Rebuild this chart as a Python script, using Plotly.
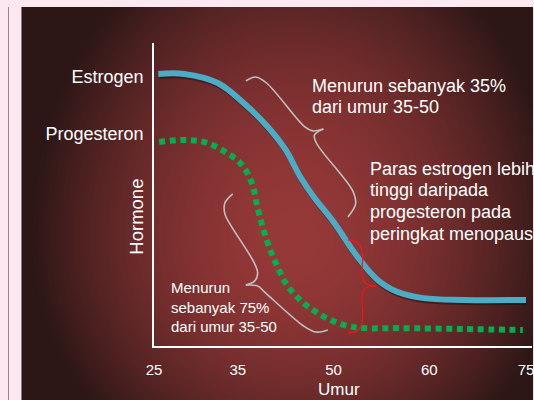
import base64
import struct
import zlib

import numpy as np
import plotly.graph_objects as go

# ---------------- data ----------------
AGE_TICKS = [25, 35, 50, 60, 75]
AGE_LABELS = ["25", "35", "50", "60", "75"]

estrogen_age = [25.5, 28.6, 32.6, 35.9, 39.7, 42.5, 44.8, 46.9, 50.0, 52.5, 54.6, 56.7, 59.4, 65.3, 75.0]
estrogen_level = [89.8, 89.8, 86.8, 80.2, 72.3, 64.7, 55.8, 49.2, 40.9, 29.4, 21.8, 17.8, 15.8, 15.2, 15.2]

progesteron_age = [25.6, 28.5, 31.0, 33.3, 35.5, 37.2, 38.0, 38.8, 39.8, 41.1, 42.8, 45.3, 47.5, 49.5,
                   51.5, 53.1, 57.0, 65.3, 74.5]
progesteron_level = [67.3, 68.0, 67.3, 64.4, 60.1, 53.8, 46.5, 39.9, 33.3, 26.7, 19.8, 14.2, 10.9, 8.6,
                     6.6, 5.9, 5.9, 5.6, 5.3]

SERIES_LABELS = ["Estrogen", "Progesteron"]

# curly braces (two halves each, meeting at the tip)
brace35_a_age = [36.25, 37.8, 39.5, 45.5, 46.7, 48.4]
brace35_a_lvl = [87.5, 88.8, 86.8, 72.3, 71.0, 71.6]
brace35_b_age = [48.4, 47.0, 47.3, 52.0, 52.3, 51.5]
brace35_b_lvl = [71.6, 69.6, 67.0, 51.2, 46.9, 42.6]

brace75_a_age = [34.4, 33.45, 33.45, 34.05, 37.5, 38.1, 37.65, 36.25]
brace75_a_lvl = [50.2, 47.2, 43.6, 40.3, 27.7, 24.1, 21.5, 20.1]
brace75_b_age = [36.25, 38.1, 39.2, 45.3, 47.2, 49.1]
brace75_b_lvl = [20.1, 19.8, 17.8, 6.6, 4.6, 5.3]

red_a_age = [51.5, 52.5, 53.0, 53.0, 53.4, 54.5]
red_a_lvl = [35.0, 34.0, 31.0, 22.8, 20.5, 19.8]
red_b_age = [54.5, 53.4, 53.0, 53.0, 52.5, 51.5]
red_b_lvl = [19.8, 19.1, 16.8, 7.9, 5.0, 4.3]

TEXT_35 = ["Menurun sebanyak 35%", "dari umur 35-50"]
TEXT_75 = ["Menurun", "sebanyak 75%", "dari umur 35-50"]
TEXT_PARAS = ["Paras estrogen lebih", "tinggi daripada", "progesteron pada", "peringkat menopaus"]

# ---------------- scale of the (non-uniform) age axis ----------------
TICK_POS = [0, 84, 180, 276, 373]


def pos(ages):
    return np.interp(np.asarray(ages, dtype=float), AGE_TICKS, TICK_POS)


W, H = 534, 400
FONT = "Liberation Sans, Arial, sans-serif"
PINK = "#FCE8F0"
DARK = "#3A1A1A"

# horizontal placement correction (measured from the page as it is photographed)
X0, XS = 7.5, 0.984


def sx(x):
    return (x - X0) / XS


# ---------------- radial-gradient background picture ----------------
PW, PH = 513, 393
xs = np.arange(PW) + 21.5
ys = np.arange(PH) + 7.5
X, Y = np.meshgrid(xs, ys)
dx = (X - 295) / 265
ry = np.where(Y < 240, 330, 260)
dy = (Y - 240) / ry
t = np.clip(np.sqrt(dx ** 2 + dy ** 2), 0, 1) ** 1.8
c0 = np.array([150, 56, 56], dtype=float)
c1 = np.array([44, 22, 22], dtype=float)
img = (c0 + (c1 - c0) * t[..., None]).round().astype(np.uint8)
raw = b"".join(b"\x00" + img[i].tobytes() for i in range(PH))


def chunk(tag, data):
    return struct.pack(">I", len(data)) + tag + data + struct.pack(">I", zlib.crc32(tag + data) & 0xFFFFFFFF)


png = (b"\x89PNG\r\n\x1a\n"
       + chunk(b"IHDR", struct.pack(">IIBBBBB", PW, PH, 8, 2, 0, 0, 0))
       + chunk(b"IDAT", zlib.compress(raw, 9))
       + chunk(b"IEND", b""))
bg_uri = "data:image/png;base64," + base64.b64encode(png).decode()

fig = go.Figure()

# shadow of the estrogen curve (subplot xy, shifted 2px right/down)
fig.add_trace(go.Scatter(x=pos(estrogen_age), y=estrogen_level, mode="lines",
                         line=dict(color="rgba(25,8,8,0.45)", width=6, shape="spline"),
                         xaxis="x", yaxis="y", hoverinfo="skip"))

# main subplot x2y2
fig.add_trace(go.Scatter(x=pos(progesteron_age), y=progesteron_level, mode="lines",
                         line=dict(color="#00B050", width=6, dash="6px,4.6px", shape="spline"),
                         xaxis="x2", yaxis="y2", name="Progesteron"))
fig.add_trace(go.Scatter(x=pos(estrogen_age), y=estrogen_level, mode="lines",
                         line=dict(color="#4BACC6", width=6, shape="spline"),
                         xaxis="x2", yaxis="y2", name="Estrogen"))

for a, l, col, w in [
    (brace35_a_age, brace35_a_lvl, "#C0C0C0", 1.6), (brace35_b_age, brace35_b_lvl, "#C0C0C0", 1.6),
    (brace75_a_age, brace75_a_lvl, "#C0C0C0", 1.6), (brace75_b_age, brace75_b_lvl, "#C0C0C0", 1.6),
    (red_a_age, red_a_lvl, "#F01818", 1.2), (red_b_age, red_b_lvl, "#F01818", 1.2),
]:
    fig.add_trace(go.Scatter(x=pos(a), y=l, mode="lines",
                             line=dict(color=col, width=w, shape="spline"),
                             xaxis="x2", yaxis="y2", hoverinfo="skip"))


def ann(text, x, y, size, xanchor="left", angle=0):
    return dict(text=text, x=sx(x) / W, y=1 - y / H, xref="paper", yref="paper",
                xanchor=xanchor, yanchor="middle", showarrow=False, textangle=angle,
                font=dict(size=size, color="white", family=FONT))


annotations = []
for i, s in enumerate(TEXT_35):
    annotations.append(ann(s, 310, [85.9, 106.9][i], 18))
for i, s in enumerate(TEXT_PARAS):
    annotations.append(ann(s, 368, [168.6, 190.3, 211.9, 233.6][i], 18))
for i, s in enumerate(TEXT_75):
    annotations.append(ann(s, 169, [287.8, 307.8, 326.2][i], 15))
annotations.append(ann("Hormone", 135.5, 217, 18.5, xanchor="center", angle=-90))
annotations.append(ann("Umur", 339, 389.5, 17, xanchor="center"))

img_left = sx(21)
img_right = sx(534)

fig.update_layout(
    width=W, height=H,
    margin=dict(l=0, r=0, t=0, b=0),
    paper_bgcolor=PINK, plot_bgcolor="rgba(0,0,0,0)",
    showlegend=False,
    images=[dict(source=bg_uri, xref="paper", yref="paper", x=img_left / W, y=1 - 7 / H,
                 sizex=(img_right - img_left) / W, sizey=PH / H, sizing="stretch",
                 xanchor="left", yanchor="top", layer="below")],
    shapes=[dict(type="rect", xref="paper", yref="paper", x0=0, x1=max(sx(8), 0.5) / W,
                 y0=0, y1=1 - 7 / H, fillcolor=DARK, line=dict(width=0), layer="below")],
    annotations=annotations,
    xaxis=dict(domain=[sx(155) / W, 1], range=[0, 378], visible=False, fixedrange=True),
    yaxis=dict(domain=[52 / H, 355 / H], range=[0, 100], visible=False, fixedrange=True),
    xaxis2=dict(domain=[sx(154) / W, 1], range=[0, 379], anchor="y2",
                showline=True, linecolor="white", linewidth=2,
                showgrid=False, zeroline=False, ticks="",
                tickvals=pos(AGE_TICKS), ticktext=AGE_LABELS,
                tickfont=dict(size=15, color="white", family=FONT),
                ticklabelstandoff=9, ticklabeloverflow="allow"),
    yaxis2=dict(domain=[54 / H, 357 / H], range=[0, 100], anchor="x2",
                showline=True, linecolor="white", linewidth=2,
                showgrid=False, zeroline=False, ticks="",
                tickvals=[88.8, 70.1], ticktext=SERIES_LABELS,
                tickfont=dict(size=18, color="white", family=FONT),
                ticklabelstandoff=5, ticklabeloverflow="allow"),
)

fig.write_html(
    "out.html",
    div_id="chart",
    config={"displayModeBar": False, "responsive": False},
    post_script="var d=document.getElementById('chart');"
                "document.documentElement.style.overflow='hidden';"
                "document.documentElement.style.background='" + DARK + "';"
                "document.body.style.background='" + DARK + "';"
                "document.body.style.margin='0';document.body.style.overflow='hidden';"
                "d.style.position='fixed';d.style.left='0px';d.style.top='0px';",
)
